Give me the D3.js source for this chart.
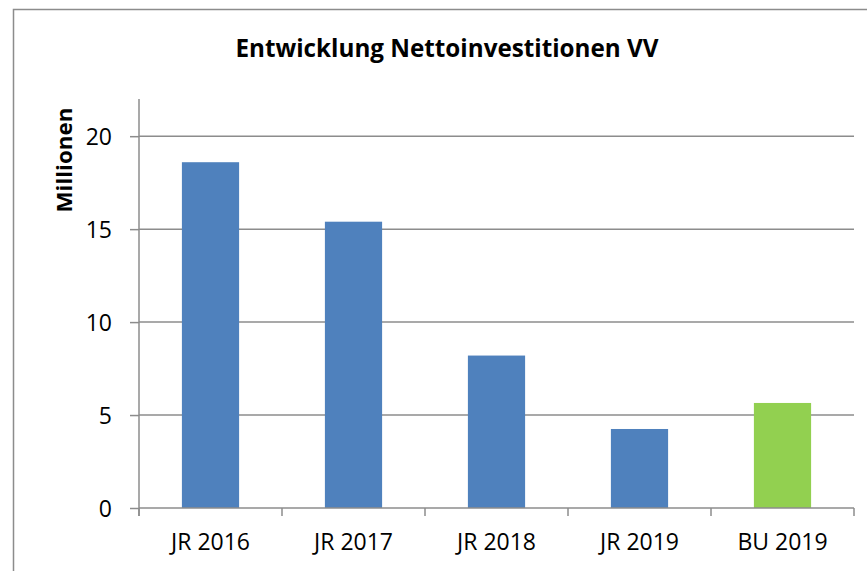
<!DOCTYPE html>
<html>
<head>
<meta charset="utf-8">
<script src="https://cdn.jsdelivr.net/npm/d3@7"></script>
<style>
  body { margin: 0; background: #fff; }
  svg text { font-family: "Open Sans", "DejaVu Sans", sans-serif; fill: #000; }
</style>
</head>
<body>
<div id="chart"></div>
<script>
// data
var categories = ["JR 2016", "JR 2017", "JR 2018", "JR 2019", "BU 2019"];
var values = [18.6, 15.4, 8.2, 4.25, 5.65];
var barColors = ["#4F81BD", "#4F81BD", "#4F81BD", "#4F81BD", "#92D050"];
var yTicks = [0, 5, 10, 15, 20];

var width = 867, height = 571;
var margin = {left: 139, right: 13, top: 99, bottom: 63};

var svg = d3.select("#chart").append("svg")
	.attr("width", width)
	.attr("height", height);

// chart frame
svg.append("rect")
	.attr("x", 13.5).attr("y", 9.5)
	.attr("width", 900).attr("height", 600)
	.style("fill", "#fff")
	.style("stroke", "#8c8c8c")
	.style("stroke-width", 1.5);

var x = d3.scaleBand()
	.domain(categories)
	.range([margin.left, width - margin.right])
	.padding(0);

var y = d3.scaleLinear()
	.domain([0, 22])
	.range([height - margin.bottom, margin.top]);

// gridlines
svg.append("g").selectAll("line")
	.data(yTicks.filter(function(d){ return d > 0; }))
	.enter().append("line")
	.attr("x1", margin.left).attr("x2", width - margin.right)
	.attr("y1", function(d){ return y(d); })
	.attr("y2", function(d){ return y(d); })
	.style("stroke", "#8c8c8c")
	.style("stroke-width", 1.5);

// bars
var bw = x.bandwidth() * 0.4;
svg.append("g").selectAll("rect")
	.data(values)
	.enter().append("rect")
	.attr("x", function(d, i){ return x(categories[i]) + (x.bandwidth() - bw) / 2; })
	.attr("y", function(d){ return y(d); })
	.attr("width", bw)
	.attr("height", function(d){ return y(0) - y(d); })
	.style("fill", function(d, i){ return barColors[i]; });

// y axis
var yAxis = svg.append("g")
	.attr("transform", "translate(" + margin.left + ",0)")
	.call(d3.axisLeft(y).tickValues(yTicks).tickSize(9).tickPadding(18));
yAxis.select(".domain").style("stroke", "#8c8c8c").style("stroke-width", 1.5)
	.attr("d", "M0," + margin.top + "V" + (y(0) + 8));
yAxis.selectAll(".tick line").style("stroke", "#8c8c8c").style("stroke-width", 1.5);
yAxis.selectAll(".tick text").style("font-size", "23px").attr("dy", "0.36em");

// x axis
var xAxis = svg.append("g")
	.attr("transform", "translate(0," + y(0) + ")")
	.call(d3.axisBottom(x).tickSize(0).tickPadding(26));
xAxis.select(".domain").style("stroke", "#8c8c8c").style("stroke-width", 1.5)
	.attr("d", "M" + margin.left + ",0H" + (width - margin.right));
xAxis.selectAll(".tick text").style("font-size", "23px");
// category boundary ticks
xAxis.selectAll(".sep")
	.data(categories.concat(["end"]))
	.enter().append("line")
	.attr("class", "sep")
	.attr("x1", function(d, i){ return i < categories.length ? x(d) : width - margin.right; })
	.attr("x2", function(d, i){ return i < categories.length ? x(d) : width - margin.right; })
	.attr("y1", 0).attr("y2", 8)
	.style("stroke", "#8c8c8c")
	.style("stroke-width", 1.5);

// title
svg.append("text")
	.attr("x", 447).attr("y", 57)
	.attr("text-anchor", "middle")
	.attr("textLength", 423)
	.attr("lengthAdjust", "spacingAndGlyphs")
	.style("font-size", "25px")
	.style("font-weight", "bold")
	.text("Entwicklung Nettoinvestitionen VV");

// y label
svg.append("text")
	.attr("transform", "translate(72,160) rotate(-90)")
	.attr("text-anchor", "middle")
	.attr("textLength", 105)
	.attr("lengthAdjust", "spacingAndGlyphs")
	.style("font-size", "22px")
	.style("font-weight", "bold")
	.text("Millionen");
</script>
</body>
</html>
